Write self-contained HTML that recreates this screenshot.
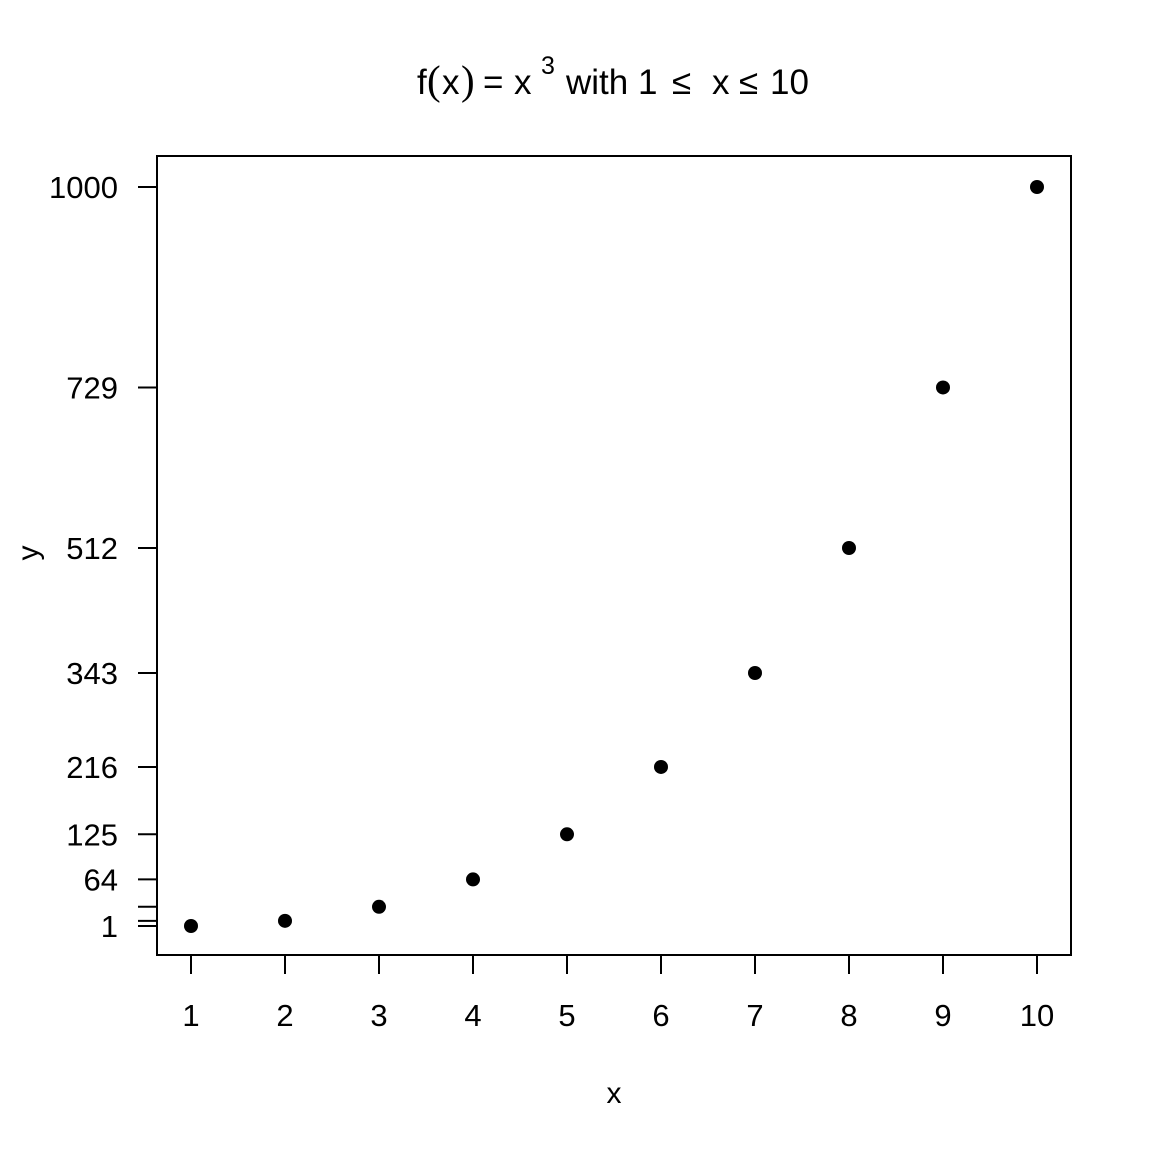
<!DOCTYPE html>
<html><head><meta charset="utf-8"><style>
html,body{margin:0;padding:0;background:#fff;}
svg{display:block;font-family:"Liberation Sans",Arial,sans-serif;}
</style></head><body>
<svg id="chart" width="1152" height="1152" viewBox="0 0 1152 1152">
<rect x="0" y="0" width="1152" height="1152" fill="#fff"/>
<g font-size="35" fill="#000">
<text x="417" y="94">f</text>
<text x="427" y="94" font-family="Liberation Serif,serif" font-size="41">(</text>
<text x="442" y="94">x</text>
<text x="461" y="94" font-family="Liberation Serif,serif" font-size="41">)</text>
<text x="483" y="94">=</text>
<text x="514" y="94">x</text>
<text x="541" y="74" font-size="25">3</text>
<text x="566" y="94">with 1</text>
<text x="672" y="94">≤</text>
<text x="712" y="94">x</text>
<text x="739" y="94">≤</text>
<text x="770" y="94">10</text>
</g>
<rect x="157" y="156" width="914" height="799" fill="none" stroke="#000" stroke-width="2"/>
<g id="xaxis"></g>
<g id="yaxis"></g>
<g id="points"></g>
<text x="614" y="1103" font-size="30" text-anchor="middle">x</text>
<text x="0" y="0" font-size="30" text-anchor="middle" transform="translate(38,553) rotate(-90)">y</text>
</svg>
<script>
const xValues = [1,2,3,4,5,6,7,8,9,10];
const yValues = [1,8,27,64,125,216,343,512,729,1000];
const xTicks = [1,2,3,4,5,6,7,8,9,10];
const yTicks = [1,8,27,64,125,216,343,512,729,1000];
const yTickLabels = ["1","","","64","125","216","343","512","729","1000"];

const NS = "http://www.w3.org/2000/svg";
function sx(v){ return 191 + (v-1)*(1037-191)/9; }
function sy(v){ return 926 - (v-1)*(926-187)/999; }
function mk(tag, attrs){ const e=document.createElementNS(NS,tag); for(const k in attrs) e.setAttribute(k,attrs[k]); return e; }

const xg = document.getElementById('xaxis');
xTicks.forEach(t=>{
  const l = mk('line',{x1:sx(t),x2:sx(t),y1:955,y2:974,stroke:'#000','stroke-width':2});
  
  
  xg.appendChild(l);
  const tx = mk('text',{x:sx(t),y:1026,'font-size':31,'text-anchor':'middle'});
  
  
  tx.textContent = t;
  xg.appendChild(tx);
});
const yg = document.getElementById('yaxis');
yTicks.forEach((t,i)=>{
  const l = mk('line',{x1:138,x2:157,y1:sy(t),y2:sy(t),stroke:'#000','stroke-width':2});
  
  
  yg.appendChild(l);
  if(yTickLabels[i]){
    const tx = mk('text',{x:118,y:sy(t)+11,'font-size':31,'text-anchor':'end'});
    
    
    tx.textContent = yTickLabels[i];
    yg.appendChild(tx);
  }
});
const pg = document.getElementById('points');
xValues.forEach((x,i)=>{
  const c = mk('circle',{cx:sx(x),cy:sy(yValues[i]),r:7,fill:'#000'});
  
  
  pg.appendChild(c);
});
</script>
</body></html>
